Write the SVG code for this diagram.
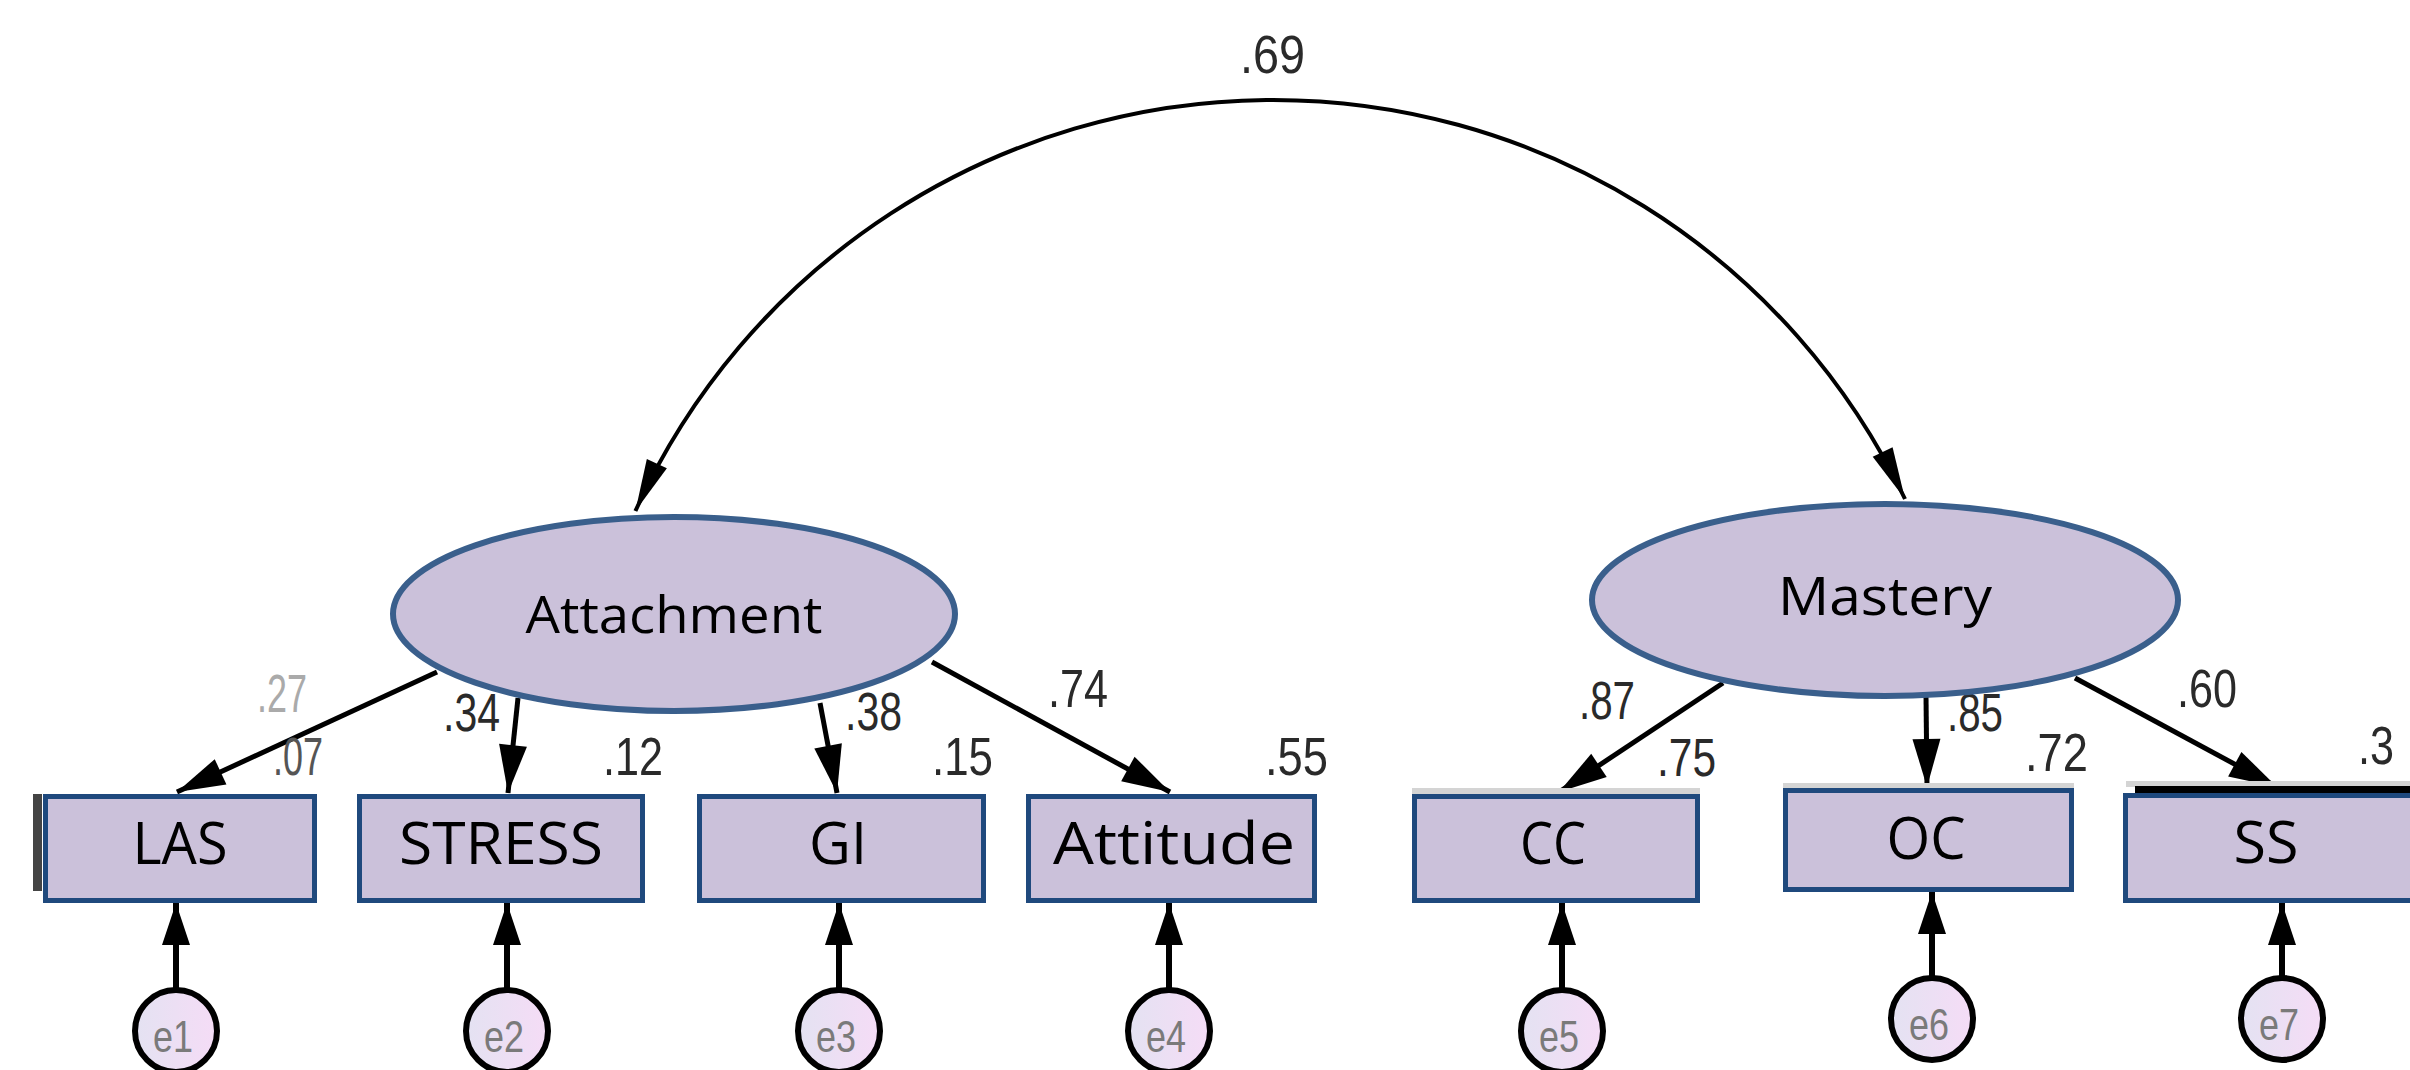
<svg xmlns="http://www.w3.org/2000/svg" width="2410" height="1070" viewBox="0 0 2410 1070">
<defs>
<style>
.box{fill:#cbc1da;stroke:#1f497d;stroke-width:5}
.lat{fill:#cbc1da;stroke:#3a5f8c;stroke-width:6}
.err{fill:url(#eg);stroke:#000;stroke-width:6}
.lbl{font-family:"Open Sans","Liberation Sans",sans-serif;fill:#000;text-anchor:middle}
.num{font-family:"Liberation Sans Narrow","Liberation Sans",sans-serif;font-size:54px;fill:#2a2a2a}
.etx{font-family:"Liberation Sans Narrow","Liberation Sans",sans-serif;font-size:44px;fill:#7a7a7a;text-anchor:middle}
.ln{stroke:#000;stroke-width:5;fill:none;marker-end:url(#ah)}
.eln{stroke:#000;stroke-width:6;fill:none;marker-end:url(#eh)}
.arc{stroke:#000;stroke-width:4;fill:none;marker-start:url(#ch);marker-end:url(#ch)}
</style>
<linearGradient id="eg" x1="0" y1="0" x2="1" y2="0">
<stop offset="0" stop-color="#e4e2f2"/>
<stop offset="1" stop-color="#f5dcf6"/>
</linearGradient>
<marker id="ah" markerUnits="userSpaceOnUse" orient="auto" refX="0" refY="0" markerWidth="60" markerHeight="60" viewBox="-55 -30 60 60" overflow="visible">
<path d="M0 0 L-48 -14 L-48 14 Z" fill="#000"/>
</marker>
<marker id="eh" markerUnits="userSpaceOnUse" orient="auto" refX="0" refY="0" markerWidth="60" markerHeight="60" viewBox="-55 -30 60 60" overflow="visible">
<path d="M0 0 L-42 -14 L-42 14 Z" fill="#000"/>
</marker>
<marker id="ch" markerUnits="userSpaceOnUse" orient="auto-start-reverse" refX="0" refY="0" markerWidth="60" markerHeight="60" viewBox="-55 -30 60 60" overflow="visible">
<path d="M0 0 L-52 -11 L-52 11 Z" fill="#000"/>
</marker>
</defs>
<rect width="2410" height="1070" fill="#fff"/>

<g id="connectors">
<path class="arc" d="M635.4 511 A700 700 0 0 1 1905 499"/>
<line class="ln" x1="437" y1="672" x2="177" y2="792"/>
<line class="ln" x1="518" y1="698" x2="508" y2="793"/>
<line class="ln" x1="820" y1="703" x2="837" y2="793"/>
<line class="ln" x1="932" y1="662" x2="1170" y2="792"/>
<line class="ln" x1="1723" y1="683" x2="1559" y2="792"/>
<line class="ln" x1="1926" y1="696" x2="1927" y2="787"/>
<line class="ln" x1="2075" y1="678" x2="2277" y2="787"/>
<line class="eln" x1="176" y1="990" x2="176" y2="903"/>
<line class="eln" x1="507" y1="990" x2="507" y2="903"/>
<line class="eln" x1="839" y1="990" x2="839" y2="903"/>
<line class="eln" x1="1169" y1="990" x2="1169" y2="903"/>
<line class="eln" x1="1562" y1="990" x2="1562" y2="903"/>
<line class="eln" x1="1932" y1="978" x2="1932" y2="892"/>
<line class="eln" x1="2282" y1="978" x2="2282" y2="903"/>
</g>

<g id="labels">
<text class="num" x="1240" y="73" textLength="65" lengthAdjust="spacingAndGlyphs">.69</text>
<text class="num" x="257" y="712" textLength="50" lengthAdjust="spacingAndGlyphs" style="fill:#aaa">.27</text>
<text class="num" x="273" y="775" textLength="50" lengthAdjust="spacingAndGlyphs" style="fill:#555">.07</text>
<text class="num" x="443" y="731" textLength="57" lengthAdjust="spacingAndGlyphs">.34</text>
<text class="num" x="603" y="775" textLength="60" lengthAdjust="spacingAndGlyphs">.12</text>
<text class="num" x="845" y="730" textLength="57" lengthAdjust="spacingAndGlyphs">.38</text>
<text class="num" x="932" y="775" textLength="61" lengthAdjust="spacingAndGlyphs">.15</text>
<text class="num" x="1048" y="707" textLength="60" lengthAdjust="spacingAndGlyphs">.74</text>
<text class="num" x="1265" y="775" textLength="63" lengthAdjust="spacingAndGlyphs">.55</text>
<text class="num" x="1579" y="719" textLength="56" lengthAdjust="spacingAndGlyphs">.87</text>
<text class="num" x="1657" y="776" textLength="59" lengthAdjust="spacingAndGlyphs">.75</text>
<text class="num" x="1947" y="731" textLength="56" lengthAdjust="spacingAndGlyphs">.85</text>
<text class="num" x="2025" y="771" textLength="63" lengthAdjust="spacingAndGlyphs">.72</text>
<text class="num" x="2177" y="707" textLength="60" lengthAdjust="spacingAndGlyphs">.60</text>
<text class="num" x="2358" y="764" textLength="36" lengthAdjust="spacingAndGlyphs">.3</text>
</g>

<g id="Attachment">
<ellipse class="lat" cx="674" cy="614" rx="281" ry="97"/>
<text class="lbl" x="674" y="633" font-size="52" textLength="297" lengthAdjust="spacingAndGlyphs">Attachment</text>
</g>
<g id="Mastery">
<ellipse class="lat" cx="1885" cy="600" rx="293" ry="96"/>
<text class="lbl" x="1885" y="615" font-size="53" textLength="214" lengthAdjust="spacingAndGlyphs">Mastery</text>
</g>

<g id="LAS">
<rect x="33" y="794" width="9" height="97" fill="#444"/>
<rect class="box" x="45.5" y="796.5" width="269" height="104"/>
<text class="lbl" x="180" y="864" font-size="59" textLength="95" lengthAdjust="spacingAndGlyphs">LAS</text>
</g>
<g id="STRESS">
<rect class="box" x="359.5" y="796.5" width="283" height="104"/>
<text class="lbl" x="501" y="864" font-size="59" textLength="204" lengthAdjust="spacingAndGlyphs">STRESS</text>
</g>
<g id="GI">
<rect class="box" x="699.5" y="796.5" width="284" height="104"/>
<text class="lbl" x="838" y="864" font-size="59" textLength="58" lengthAdjust="spacingAndGlyphs">GI</text>
</g>
<g id="Attitude">
<rect class="box" x="1028.5" y="796.5" width="286" height="104"/>
<text class="lbl" x="1174" y="864" font-size="59" textLength="242" lengthAdjust="spacingAndGlyphs">Attitude</text>
</g>
<g id="CC">
<rect x="1412" y="788" width="288" height="6" fill="#d4d4d4"/>
<rect class="box" x="1414.5" y="796.5" width="283" height="104"/>
<text class="lbl" x="1553" y="864" font-size="59" textLength="66" lengthAdjust="spacingAndGlyphs">CC</text>
</g>
<g id="OC">
<rect x="1783" y="783" width="291" height="6" fill="#d4d4d4"/>
<rect class="box" x="1785.5" y="790.5" width="286" height="99"/>
<text class="lbl" x="1926" y="859" font-size="59" textLength="79" lengthAdjust="spacingAndGlyphs">OC</text>
</g>
<g id="SS">
<rect x="2126" y="781" width="290" height="6" fill="#d4d4d4"/>
<rect x="2135" y="786" width="280" height="8" fill="#000"/>
<rect class="box" x="2125.5" y="795.5" width="300" height="105"/>
<text class="lbl" x="2266" y="863" font-size="59" textLength="65" lengthAdjust="spacingAndGlyphs">SS</text>
</g>

<g id="e1"><circle class="err" cx="176" cy="1031" r="41"/><text class="etx" x="173" y="1052" textLength="40" lengthAdjust="spacingAndGlyphs">e1</text></g>
<g id="e2"><circle class="err" cx="507" cy="1031" r="41"/><text class="etx" x="504" y="1052" textLength="40" lengthAdjust="spacingAndGlyphs">e2</text></g>
<g id="e3"><circle class="err" cx="839" cy="1031" r="41"/><text class="etx" x="836" y="1052" textLength="40" lengthAdjust="spacingAndGlyphs">e3</text></g>
<g id="e4"><circle class="err" cx="1169" cy="1031" r="41"/><text class="etx" x="1166" y="1052" textLength="40" lengthAdjust="spacingAndGlyphs">e4</text></g>
<g id="e5"><circle class="err" cx="1562" cy="1031" r="41"/><text class="etx" x="1559" y="1052" textLength="40" lengthAdjust="spacingAndGlyphs">e5</text></g>
<g id="e6"><circle class="err" cx="1932" cy="1019" r="41"/><text class="etx" x="1929" y="1040" textLength="40" lengthAdjust="spacingAndGlyphs">e6</text></g>
<g id="e7"><circle class="err" cx="2282" cy="1019" r="41"/><text class="etx" x="2279" y="1040" textLength="40" lengthAdjust="spacingAndGlyphs">e7</text></g>
</svg>
